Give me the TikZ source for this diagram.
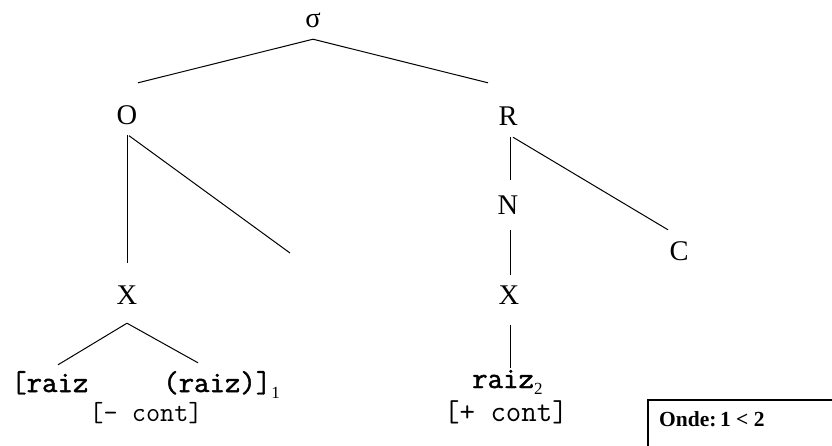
\documentclass[tikz,border=0pt]{standalone}
\usepackage{fontspec}
\setmainfont{Liberation Serif}
\newfontfamily\raizfont[FakeBold=1.6]{Latin Modern Mono}
\begin{document}
\begin{tikzpicture}[x=1pt,y=-1pt,
  capnode/.style={font=\fontsize{28.5}{30}\selectfont, inner sep=0pt, text height=19pt, text depth=0pt},
  signode/.style={font=\fontsize{28.5}{30}\selectfont, inner sep=0pt, text height=14pt, text depth=0pt},
  monob/.style={font=\raizfont\fontsize{30}{32}\selectfont, inner sep=0pt, text height=14pt, text depth=0pt, anchor=base west},
  monor/.style={font=\ttfamily\fontsize{#1}{32}\selectfont, inner sep=0pt, anchor=base},
  conn/.style={line width=1pt}]
\useasboundingbox (0,0) rectangle (832,445);
\fill[white] (0,0) rectangle (832,445);
% nodes
\node[signode] (s) at (313,20) {σ};
\node[capnode] (O) at (127,115) {O};
\node[capnode] (R) at (508,116) {R};
\node[capnode] (N) at (508,205) {N};
\node[capnode] (X1) at (127,295) {X};
\node[capnode] (X2) at (509,295) {X};
\node[capnode] (C) at (679,251) {C};
\node[monob] (r1) at (11,392) {[raiz};
\node[monob] (r2) at (163,392) {(raiz)]\raisebox{-6pt}{\rmfamily\mdseries\fontsize{17}{17}\selectfont 1}};
\node[monob] (r3) at (472,388) {raiz\raisebox{-6pt}{\rmfamily\mdseries\fontsize{17}{17}\selectfont 2}};
\node[monor=27.5] (c1) at (146,421) {[- cont]};
\node[monor=30] (c2) at (506,421) {[+ cont]};
\coordinate (ofree) at (290,253);
% connectors
\draw[conn] ([xshift=11pt,yshift=22.5pt]O.north) -- ([yshift=-12pt]s.south) -- ([xshift=-20pt,yshift=23.5pt]R.north);
\draw[conn] ([yshift=-10.5pt]O.south) -- ([yshift=22.5pt]X1.north);
\draw[conn] ([xshift=2pt,yshift=-11pt]O.south) -- (ofree);
\draw[conn] ([xshift=2pt,yshift=-11.5pt]R.south) -- ([xshift=2pt,yshift=15.5pt]N.north);
\draw[conn] ([xshift=5pt,yshift=-11.5pt]R.south) -- ([xshift=-11pt,yshift=11.5pt]C.north);
\draw[conn] ([xshift=2pt,yshift=-15.5pt]N.south) -- ([xshift=1pt,yshift=10.5pt]X2.north);
\draw[conn] ([yshift=-18.5pt]X1.south) -- ([xshift=47pt,yshift=13pt]r1.north west);
\draw[conn] ([yshift=-18.5pt]X1.south) -- ([xshift=35pt,yshift=15pt]r2.north west);
\draw[conn] ([xshift=1pt,yshift=-20.5pt]X2.south) -- ([xshift=38pt,yshift=6pt]r3.north west);
% legend box
\draw[line width=2pt] (648,400) rectangle (900,480);
\node[font=\bfseries\fontsize{21.5}{23}\selectfont, inner sep=0pt, anchor=base west] (onde) at (659,426) {Onde:\,1 < 2};
\end{tikzpicture}
\end{document}
